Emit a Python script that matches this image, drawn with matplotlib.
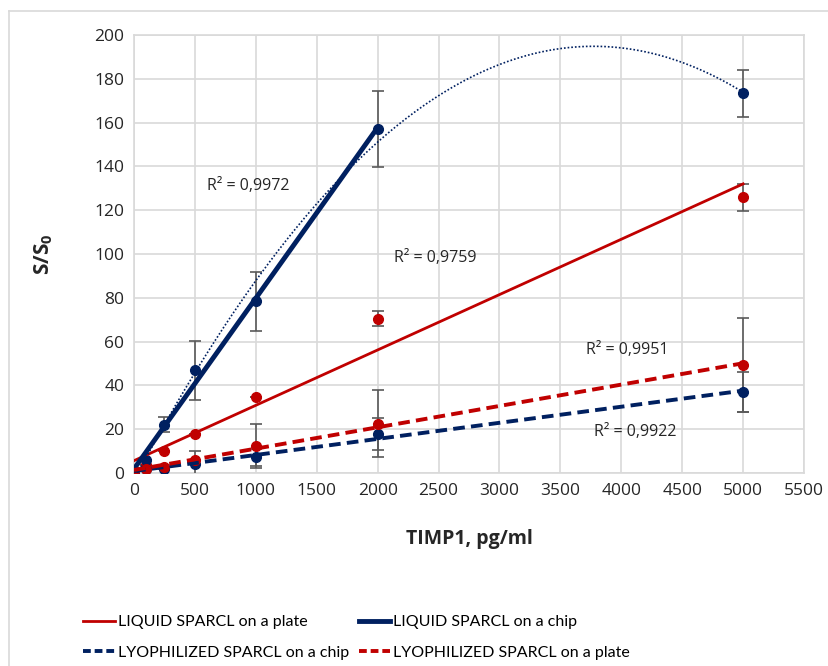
import numpy as np
import matplotlib.pyplot as plt
from matplotlib.lines import Line2D

# concentrations, pg/ml
conc = [0, 100, 250, 500, 1000, 2000, 5000]

# S/S0 values
liq_plate = [1, 3.5, 10, 17.8, 34.5, 70.5, 125.8]
liq_plate_err = [0, 0, 0, 0, 0, 3.5, 6]
liq_chip = [1, 5.8, 22, 47, 78.5, 157, 173.3]
liq_chip_err = [0, 0, 3.5, 13.5, 13.5, 17.3, 10.7]
lyo_chip = [1, 2, 2, 4.3, 7.1, 17.8, 37]
lyo_chip_err = [0, 0, 0, 5.8, 4, 7.1, 9]
lyo_plate = [1, 2, 2.8, 6, 12.3, 22.5, 49.3]
lyo_plate_err = [0, 0, 0, 0, 10, 15.3, 21.5]

r2_labels = ['R² = 0,9972', 'R² = 0,9759', 'R² = 0,9951', 'R² = 0,9922']
r2_pos = [(935, 131), (2470, 98), (4050, 56), (4115, 18.7)]

RED = '#C00000'
NAVY = '#002060'
ERR = '#595959'

plt.rcParams['font.family'] = ['Open Sans', 'DejaVu Sans']

fig = plt.figure(figsize=(8.29, 6.66), dpi=100)
ax = fig.add_axes([134/829, 193/666, 670/829, 438/666])

x = np.array(conc, dtype=float)

def points(y, err, color):
    ax.errorbar(x, y, yerr=err, fmt='o', color=color, ms=7, ecolor=ERR,
                elinewidth=1.2, capsize=4, capthick=1.2, zorder=3)

points(liq_plate, liq_plate_err, RED)
points(liq_chip, liq_chip_err, NAVY)
points(lyo_chip, lyo_chip_err, NAVY)
points(lyo_plate, lyo_plate_err, RED)

# trendlines
xx = np.linspace(0, 5000, 200)
p = np.polyfit(x, liq_plate, 1)
ax.plot(xx, np.polyval(p, xx), color=RED, lw=2, zorder=4)

m = x <= 2000
p = np.polyfit(x[m], np.array(liq_chip)[m], 1)
x2 = np.linspace(0, 2000, 50)
ax.plot(x2, np.polyval(p, x2), color=NAVY, lw=3.5, zorder=4)

p = np.polyfit(x, liq_chip, 2)
ax.plot(xx, np.polyval(p, xx), color=NAVY, lw=1.2, ls=(0, (1, 1.2)), zorder=4)

p = np.polyfit(x, lyo_chip, 1)
ax.plot(xx, np.polyval(p, xx), color=NAVY, lw=2.8, ls=(0, (3, 1.6)), zorder=4)

p = np.polyfit(x, lyo_plate, 1)
ax.plot(xx, np.polyval(p, xx), color=RED, lw=2.8, ls=(0, (3, 1.6)), zorder=4)

for lab, (tx, ty) in zip(r2_labels, r2_pos):
    ax.text(tx, ty, lab, ha='center', va='center', fontsize=11.5, color='#262626', zorder=5)

ax.set_xlim(0, 5500)
ax.set_ylim(0, 200)
ax.set_xticks(np.arange(0, 5501, 500))
ax.set_yticks(np.arange(0, 201, 20))
ax.grid(True, color='#D9D9D9', lw=1.2)
ax.set_axisbelow(True)
for s in ax.spines.values():
    s.set_color('#D9D9D9')
    s.set_linewidth(1.2)
ax.tick_params(length=0, labelsize=12.5, colors='#262626', pad=7)

ax.set_xlabel('TIMP1, pg/ml', fontsize=14, fontweight='bold', labelpad=22, color='#262626')
ax.set_ylabel('S/S$_\\mathregular{0}$', fontsize=15, fontweight='bold', labelpad=28, color='#262626')

handles = [
    Line2D([], [], color=RED, lw=2),
    Line2D([], [], color=NAVY, lw=2.8, ls=(0, (2, 1))),
    Line2D([], [], color=NAVY, lw=3.5),
    Line2D([], [], color=RED, lw=2.8, ls=(0, (2, 1))),
]
labels = ['LIQUID SPARCL on a plate', 'LYOPHILIZED SPARCL on a chip',
          'LIQUID SPARCL on a chip', 'LYOPHILIZED SPARCL on a plate']
fig.legend(handles, labels, ncol=2, loc='center left', bbox_to_anchor=(69/829, 0.043),
           frameon=False, handlelength=2.0, handletextpad=0.15,
           columnspacing=0.6, labelspacing=1.0,
           prop={'family': ['Lato', 'DejaVu Sans'], 'size': 11.5})

# chart area border (partly cropped in the original)
fig.add_artist(Line2D([9/829, 1.0], [1 - 11/666, 1 - 11/666], color='#D9D9D9', lw=1.2))
fig.add_artist(Line2D([9/829, 9/829], [0, 1 - 11/666], color='#D9D9D9', lw=1.2))

fig.savefig('out.png', dpi=100)
